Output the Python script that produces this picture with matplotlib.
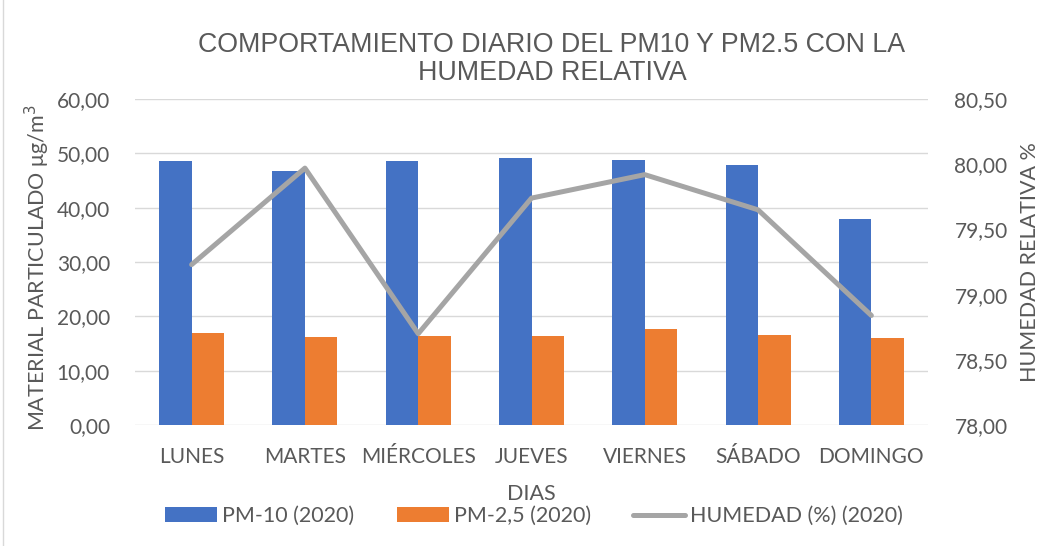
import numpy as np
import matplotlib.pyplot as plt
from matplotlib.ticker import FuncFormatter

dias = ['LUNES', 'MARTES', 'MIÉRCOLES', 'JUEVES', 'VIERNES', 'SÁBADO', 'DOMINGO']
pm10 = [48.65, 46.8, 48.6, 49.1, 48.8, 47.8, 37.85]
pm25 = [16.9, 16.15, 16.45, 16.4, 17.6, 16.65, 16.0]
humedad = [79.23, 79.97, 78.70, 79.74, 79.92, 79.65, 78.84]

plt.rcParams['font.family'] = ['Lato', 'DejaVu Sans']
txt = '#595959'

fig = plt.figure(figsize=(10.41, 5.46), dpi=100)
ax = fig.add_axes([135 / 1041, 1 - 425 / 546, (928 - 135) / 1041, (425 - 99) / 546])
ax2 = ax.twinx()

x = np.arange(len(dias))
w = 0.287
ax.bar(x - w / 2, pm10, w, color='#4472C4', label='PM-10 (2020)', zorder=2)
ax.bar(x + w / 2, pm25, w, color='#ED7D31', label='PM-2,5 (2020)', zorder=2)
ax2.plot(x, humedad, color='#A5A5A5', lw=3.6, label='HUMEDAD (%) (2020)', solid_capstyle='round')

ax.set_xlim(-0.5, len(dias) - 0.5)
ax.set_ylim(0, 60)
ax.set_yticks(np.arange(0, 61, 10))
ax2.set_ylim(78, 80.5)
ax2.set_yticks(np.arange(78, 80.51, 0.5))
fmt = FuncFormatter(lambda v, p: f'{v:.2f}'.replace('.', ','))
ax.yaxis.set_major_formatter(fmt)
ax2.yaxis.set_major_formatter(fmt)
ax.set_xticks(x)
ax.set_xticklabels(dias)

ax.grid(axis='y', color='#D9D9D9', lw=1, zorder=0)
ax.set_axisbelow(True)
for a in (ax, ax2):
    for s in a.spines.values():
        s.set_visible(False)
    a.tick_params(length=0, labelsize=15, labelcolor=txt)
ax.tick_params(axis='y', pad=18)
ax.tick_params(axis='x', pad=16)
ax2.tick_params(axis='y', pad=19)

fig.text(552 / 1041, 1 - 59 / 546, 'COMPORTAMIENTO DIARIO DEL PM10 Y PM2.5 CON LA\nHUMEDAD RELATIVA',
         ha='center', va='center', fontsize=19.3, color=txt, family='Liberation Sans', linespacing=1.1)
fig.text(37 / 1041, 1 - 268 / 546, 'MATERIAL PARTICULADO μg/m$^3$', rotation=90,
         ha='center', va='center', fontsize=15.5, color=txt)
fig.text(1030 / 1041, 1 - 262 / 546, 'HUMEDAD RELATIVA %', rotation=90,
         ha='center', va='center', fontsize=15.5, color=txt)
fig.text(531 / 1041, 1 - 494 / 546, 'DIAS', ha='center', va='center', fontsize=15.5, color=txt)

h1, l1 = ax.get_legend_handles_labels()
h2, l2 = ax2.get_legend_handles_labels()
fig.legend(h1 + h2, l1 + l2, loc='center', bbox_to_anchor=(534 / 1041, 1 - 516 / 546), ncol=3,
           frameon=False, fontsize=15.5, labelcolor=txt, handlelength=2.42, handletextpad=0.23,
           columnspacing=1.95, handleheight=0.65)

fig.add_artist(plt.Line2D([3 / 1041, 3 / 1041], [0, 1], color='#D9D9D9', lw=1))

fig.savefig('out.png', dpi=100)
